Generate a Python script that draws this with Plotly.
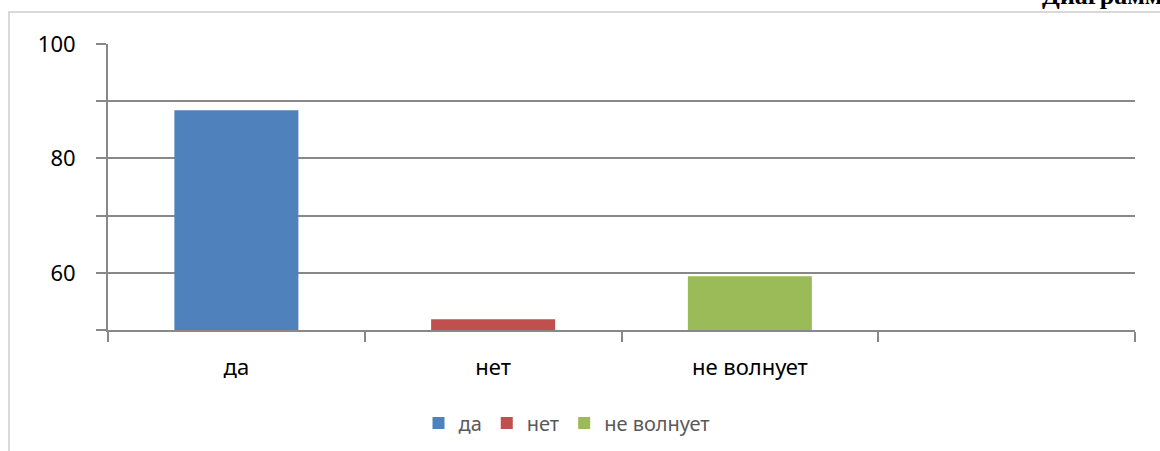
import plotly.graph_objects as go

categories = ["да", "нет", "не волнует", " "]
values = [88.4, 51.9, 59.4, None]
colors = ["#4F81BD", "#C0504D", "#9BBB59"]
ytick_vals = [50, 60, 70, 80, 90, 100]
ytick_text = ["", "60", "", "80", "", "100"]

W, H = 1160, 451
# plot area in screen pixels: x 108..1135, y 44..330 (page body margin removed)
L, T = 108, 44
R = W - 1135
B = H - 330
pw, ph = W - L - R, H - T - B

def px_x(sx):
    return (sx - L) / pw

def px_y(sy):
    return (H - B - sy) / ph

fig = go.Figure()
for i in range(3):
    fig.add_trace(go.Bar(
        x=[categories[i]], y=[values[i]], name=categories[i],
        marker=dict(color=colors[i], line=dict(width=0)),
        offsetgroup="a", showlegend=True,
    ))
fig.add_trace(go.Bar(x=[categories[3]], y=[values[3]], showlegend=False,
                     offsetgroup="a", hoverinfo="skip"))

grid_col = "#888888"
fig.update_layout(
    width=W, height=H,
    margin=dict(l=L, r=R, t=T, b=B, autoexpand=False),
    paper_bgcolor="white", plot_bgcolor="white",
    bargap=0.517,
    font=dict(family="Noto Sans, Open Sans, sans-serif", size=22, color="black"),
    legend=dict(orientation="h", x=px_x(567), y=px_y(423), xanchor="center", yanchor="middle",
                font=dict(size=20, color="#595959"), traceorder="normal"),
    xaxis=dict(
        categoryorder="array", categoryarray=categories, automargin=False,
        tickson="boundaries", ticks="outside", ticklen=10, tickwidth=2, tickcolor=grid_col,
        showline=True, linecolor=grid_col, linewidth=2,
        showgrid=False, ticklabelstandoff=17,
        tickfont=dict(size=22, color="black"),
    ),
    yaxis=dict(
        range=[50, 100], tickvals=ytick_vals, ticktext=ytick_text, automargin=False,
        ticks="outside", ticklen=10, tickwidth=2, tickcolor=grid_col,
        showline=True, linecolor=grid_col, linewidth=2,
        showgrid=True, gridcolor=grid_col, gridwidth=2,
        zeroline=False, ticklabelstandoff=16,
        tickfont=dict(size=22, color="black"),
    ),
    shapes=[
        dict(type="line", xref="paper", yref="paper",
             x0=px_x(8), x1=px_x(1175), y0=px_y(12), y1=px_y(12),
             line=dict(color="#D9D9D9", width=2)),
        dict(type="line", xref="paper", yref="paper",
             x0=px_x(9), x1=px_x(9), y0=px_y(12), y1=px_y(470),
             line=dict(color="#D9D9D9", width=2)),
    ],
    annotations=[
        dict(text="<b>Диаграмма</b>", xref="paper", yref="paper",
             x=px_x(1040), y=px_y(12), xanchor="left", yanchor="bottom",
             showarrow=False,
             font=dict(family="Liberation Serif, serif", size=26, color="black")),
    ],
)

fig.write_html("out.html", config={"displayModeBar": False},
               post_script="document.body.style.margin='0';document.body.style.overflow='hidden';")
